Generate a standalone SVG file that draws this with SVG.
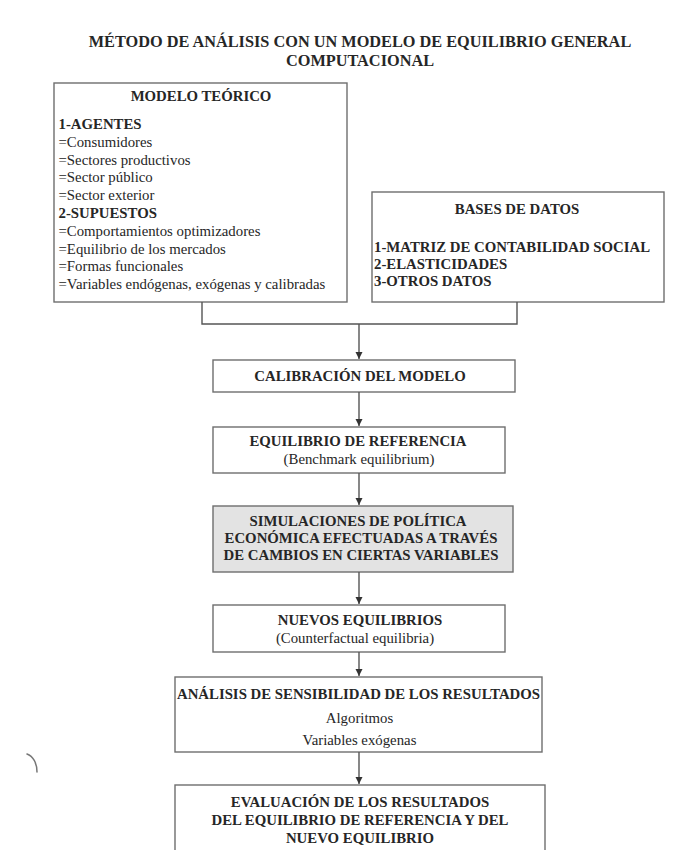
<svg xmlns="http://www.w3.org/2000/svg" width="687" height="850" viewBox="0 0 687 850">
<defs>
<style>
text{font-family:"Liberation Serif","Times New Roman",serif;fill:#262626}
.b{font-weight:bold;font-size:14.8px}
.r{font-size:14.8px}
.t{font-weight:bold;font-size:16.3px}
.m{text-anchor:middle}
.box{fill:#fff;stroke:#6e6e6e;stroke-width:1.4}
.gray{fill:#e3e3e3}
.con{fill:none;stroke:#555;stroke-width:1.4}
</style>
<marker id="ah" viewBox="0 0 10 10" refX="10" refY="5" markerWidth="7" markerHeight="10" markerUnits="userSpaceOnUse" orient="auto">
<path d="M0,0 L10,5 L0,10 Z" fill="#333"/>
</marker>
</defs>
<rect width="687" height="850" fill="#fff"/>

<g id="title">
<text class="t m" x="360" y="47">MÉTODO DE ANÁLISIS CON UN MODELO DE EQUILIBRIO GENERAL</text>
<text class="t m" x="360" y="66">COMPUTACIONAL</text>
</g>

<g id="modelo-teorico">
<rect class="box" x="54" y="83" width="293" height="219"/>
<text class="b m" x="201" y="101">MODELO TEÓRICO</text>
<text class="b" x="58.5" y="129">1-AGENTES</text>
<text class="r" x="58.5" y="146.8">=Consumidores</text>
<text class="r" x="58.5" y="164.6">=Sectores productivos</text>
<text class="r" x="58.5" y="182.4">=Sector público</text>
<text class="r" x="58.5" y="200.2">=Sector exterior</text>
<text class="b" x="58.5" y="218">2-SUPUESTOS</text>
<text class="r" x="58.5" y="235.8">=Comportamientos optimizadores</text>
<text class="r" x="58.5" y="253.6">=Equilibrio de los mercados</text>
<text class="r" x="58.5" y="271.4">=Formas funcionales</text>
<text class="r" x="58.5" y="289.2">=Variables endógenas, exógenas y calibradas</text>
</g>

<g id="bases-datos">
<rect class="box" x="372" y="192" width="292" height="110"/>
<text class="b m" x="517" y="214">BASES DE DATOS</text>
<text class="b" x="374" y="252">1-MATRIZ DE CONTABILIDAD SOCIAL</text>
<text class="b" x="374" y="269">2-ELASTICIDADES</text>
<text class="b" x="374" y="286">3-OTROS DATOS</text>
</g>

<g id="calibracion">
<rect class="box" x="213" y="360" width="302" height="32"/>
<text class="b m" x="360" y="381">CALIBRACIÓN DEL MODELO</text>
</g>

<g id="equilibrio-referencia">
<rect class="box" x="213" y="427" width="292" height="46"/>
<text class="b m" x="358" y="446">EQUILIBRIO DE REFERENCIA</text>
<text class="r m" x="359" y="464">(Benchmark equilibrium)</text>
</g>

<g id="simulaciones">
<rect class="box gray" x="213" y="506" width="300" height="66"/>
<text class="b m" x="358" y="526">SIMULACIONES DE POLÍTICA</text>
<text class="b m" x="361" y="543">ECONÓMICA EFECTUADAS A TRAVÉS</text>
<text class="b m" x="361" y="560">DE CAMBIOS EN CIERTAS VARIABLES</text>
</g>

<g id="nuevos-equilibrios">
<rect class="box" x="213" y="605" width="292" height="47"/>
<text class="b m" x="360" y="625">NUEVOS EQUILIBRIOS</text>
<text class="r m" x="355" y="643">(Counterfactual equilibria)</text>
</g>

<g id="analisis-sensibilidad">
<rect class="box" x="175" y="677" width="367" height="75"/>
<text class="b m" x="358.5" y="699">ANÁLISIS DE SENSIBILIDAD DE LOS RESULTADOS</text>
<text class="r m" x="359.5" y="723">Algoritmos</text>
<text class="r m" x="359.5" y="745">Variables exógenas</text>
</g>

<g id="evaluacion">
<rect class="box" x="175" y="785" width="370" height="80"/>
<text class="b m" x="360" y="807">EVALUACIÓN DE LOS RESULTADOS</text>
<text class="b m" x="360" y="825">DEL EQUILIBRIO DE REFERENCIA Y DEL</text>
<text class="b m" x="360" y="843">NUEVO EQUILIBRIO</text>
</g>

<g id="connectors">
<polyline class="con" points="202,302 202,324 517,324 517,302"/>
<line class="con" x1="359" y1="324" x2="359" y2="359" marker-end="url(#ah)"/>
<line class="con" x1="359" y1="392" x2="359" y2="426" marker-end="url(#ah)"/>
<line class="con" x1="359" y1="473" x2="359" y2="505" marker-end="url(#ah)"/>
<line class="con" x1="359" y1="572" x2="359" y2="604" marker-end="url(#ah)"/>
<line class="con" x1="359" y1="652" x2="359" y2="676" marker-end="url(#ah)"/>
<line class="con" x1="359" y1="752" x2="359" y2="784" marker-end="url(#ah)"/>
</g>

<path d="M27,754 C33,756 37,763 37,772" fill="none" stroke="#777" stroke-width="1.5" stroke-linecap="round"/>
</svg>
